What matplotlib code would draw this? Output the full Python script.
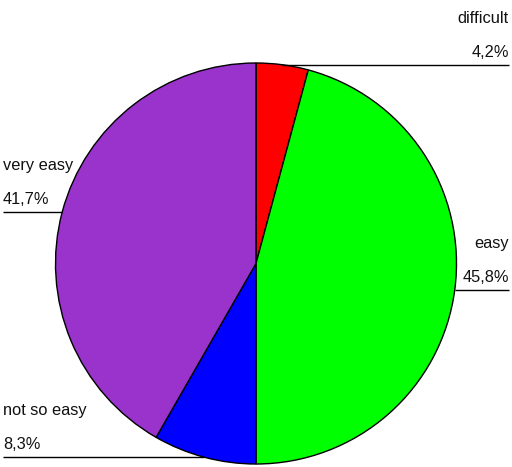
import matplotlib
matplotlib.use("Agg")
import matplotlib.pyplot as plt
import numpy as np

categories = ["difficult", "easy", "not so easy", "very easy"]
percentages = [4.2, 45.8, 8.3, 41.7]
colors = ["#FF0000", "#00FF00", "#0000FF", "#9933CC"]

W, H = 512, 467
fig = plt.figure(figsize=(W / 100, H / 100), dpi=100)
ax = fig.add_axes([0, 0, 1, 1])
ax.set_xlim(0, W)
ax.set_ylim(0, H)
ax.set_aspect("equal")
ax.axis("off")

cx, cy, r = 256, H - 263.5, 200.5
wedges, _ = ax.pie(percentages, colors=colors, startangle=90, counterclock=False,
                   center=(cx, cy), radius=r,
                   wedgeprops=dict(edgecolor="black", linewidth=1.0))
ax.set_xlim(0, W)
ax.set_ylim(0, H)

font = dict(family="Liberation Sans", fontsize=11.8, color="#111111")
for w, name, pct in zip(wedges, categories, percentages):
    mid = np.deg2rad((w.theta1 + w.theta2) / 2)
    px = cx + r * np.cos(mid)
    py = cy + r * np.sin(mid)
    if px >= cx:
        x_end, ha = 509, "right"
    else:
        x_end, ha = 3, "left"
    ax.plot([px, x_end], [py, py], color="black", linewidth=1.0, solid_capstyle="butt")
    txt = f"{pct:.1f}".replace(".", ",") + "%"
    ax.text(x_end, py + 8, txt, ha=ha, va="baseline", **font)
    ax.text(x_end, py + 42, name, ha=ha, va="baseline", **font)

fig.savefig("out.png", dpi=100)
